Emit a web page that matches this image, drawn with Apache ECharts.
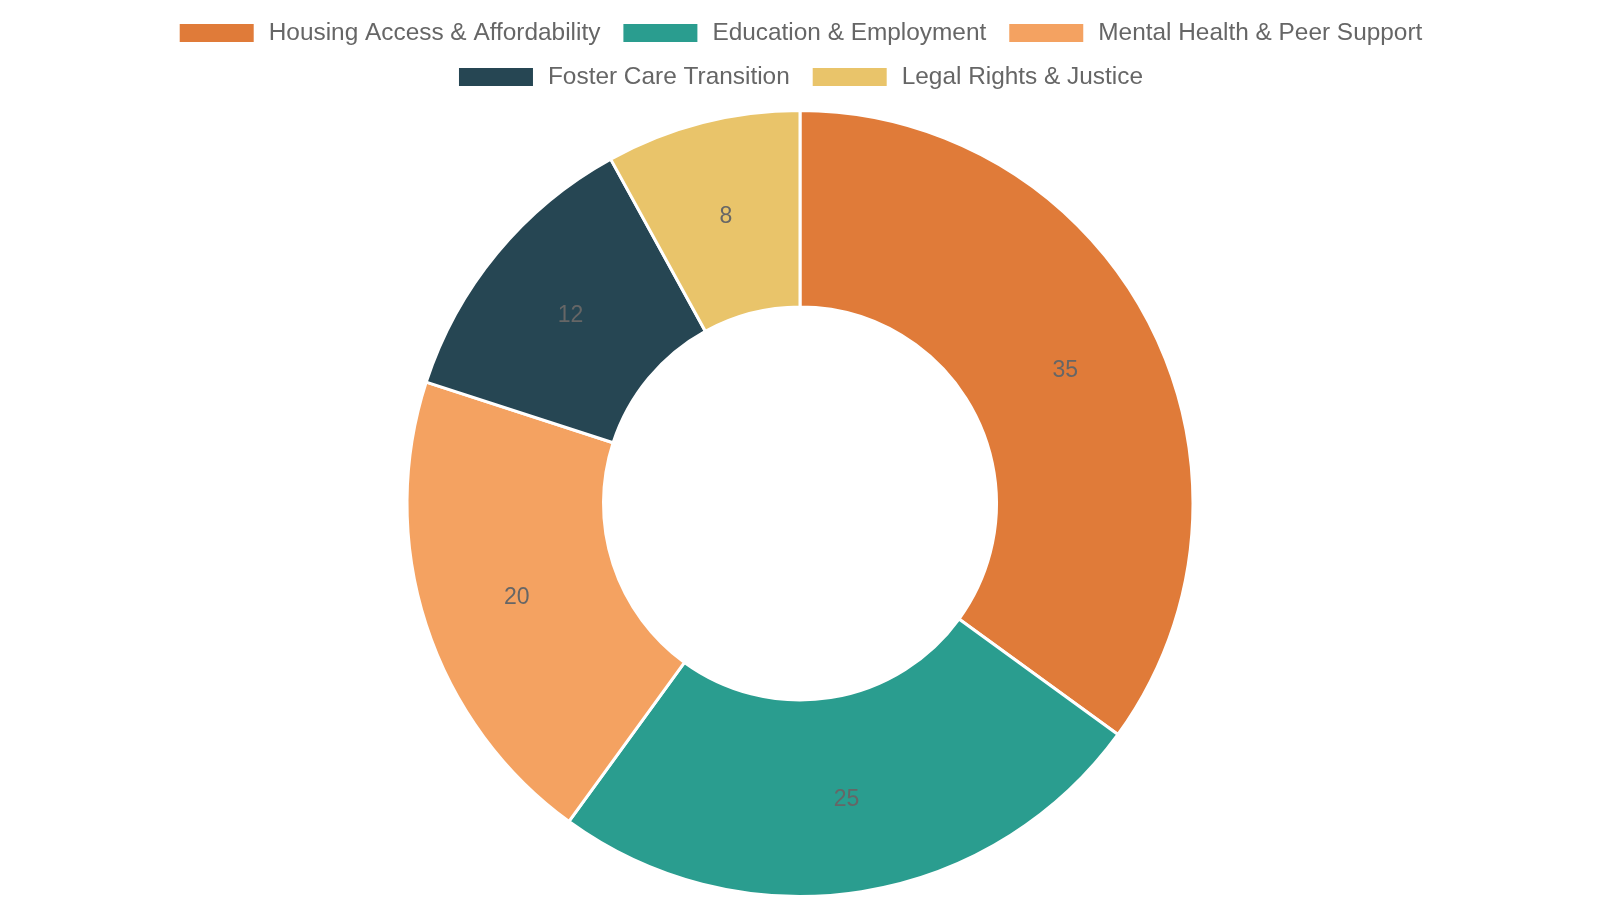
<!DOCTYPE html>
<html>
<head>
<meta charset="utf-8">
<script src="https://cdn.jsdelivr.net/npm/echarts@6/dist/echarts.min.js"></script>
<style>
html, body { margin: 0; padding: 0; background: #fff; }
#echarts { width: 1600px; height: 900px; }
</style>
</head>
<body>
<div id="echarts"></div>
<script>
var categories = ['Housing Access & Affordability', 'Education & Employment', 'Mental Health & Peer Support', 'Foster Care Transition', 'Legal Rights & Justice'];
var values = [35, 25, 20, 12, 8];
var colors = ['#E07B39', '#2A9D8F', '#F4A261', '#264653', '#E9C46A'];

var myChart = echarts.init(document.getElementById('echarts'));

var pieData = [];
for (var i = 0; i < categories.length; i++) {
    pieData.push({ name: categories[i], value: values[i] });
}

// legend rows are centred one by one, so two legends
function legendRow(names, top) {
    return {
        data: names,
        top: top,
        left: 'center',
        icon: 'rect',
        itemWidth: 76,
        itemHeight: 20,
        itemGap: 21,
        textStyle: {
            fontSize: 24.4,
            color: '#666',
            fontFamily: 'Liberation Sans, Arial, sans-serif',
            padding: [0, 0, 0, 9]
        }
    };
}

var option = {
    color: colors,
    legend: [
        legendRow(categories.slice(0, 3), 16),
        legendRow(categories.slice(3), 60)
    ],
    series: [{
        type: 'pie',
        center: [800, 503.5],
        radius: [196.5, 393],
        startAngle: 90,
        clockwise: true,
        data: pieData,
        itemStyle: {
            borderColor: '#fff',
            borderWidth: 3
        },
        label: {
            show: true,
            position: 'inside',
            formatter: '{c}',
            fontSize: 23,
            color: '#666',
            offset: [0, 2],
            fontFamily: 'Liberation Sans, Arial, sans-serif'
        },
        labelLine: { show: false }
    }]
};
myChart.setOption(option);
</script>
</body>
</html>
